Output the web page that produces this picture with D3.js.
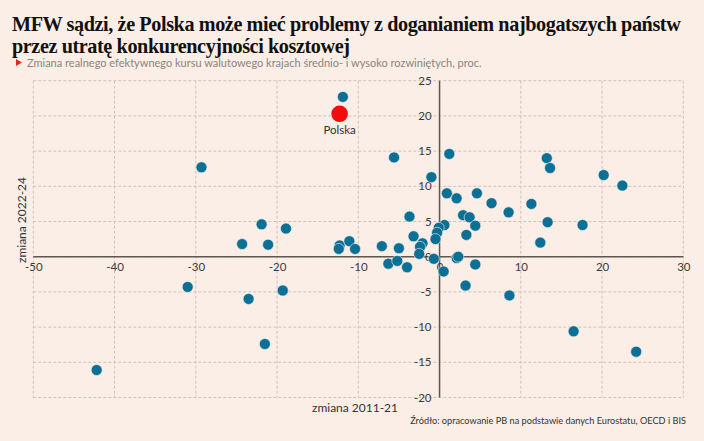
<!DOCTYPE html>
<html><head><meta charset="utf-8">
<script src="https://cdn.jsdelivr.net/npm/d3@7"></script>
<style>
html,body{margin:0;padding:0;background:#fbeee6;}
svg{display:block;}
</style></head>
<body>
<svg id="chart" width="704" height="441"></svg>
<script>
// --- data ---
const titleLines = ["MFW sądzi, że Polska może mieć problemy z doganianiem najbogatszych państw", "przez utratę konkurencyjności kosztowej"];
const subtitle = "Zmiana realnego efektywnego kursu walutowego krajach średnio- i wysoko rozwiniętych, proc.";
const source = "Źródło: opracowanie PB na podstawie danych Eurostatu, OECD i BIS";
const xLabel = "zmiana 2011-21";
const yLabel = "zmiana 2022-24";
const xTicks = [-50, -40, -30, -20, -10, 0, 10, 20, 30];
const yTicks = [-20, -15, -10, -5, 0, 5, 10, 15, 20, 25];
// change 2011-21 (x) and change 2022-24 (y) for each country
const change2011_21 = [-11.9, -29.3, -21.9, -18.9, -24.3, -21.1, -12.3, -12.4, -11.1, -10.4,
  -5.6, 1.2, -1.0, 0.9, 2.1, 4.6, 6.4, 8.5, 11.3, 13.2,
  13.6, 20.2, 22.5, 13.3, 17.6, 12.4, -3.7, 2.9, 3.7, 4.4,
  3.3, 0.6, -0.1, -0.3, -0.5, -3.2, -2.1, -2.4, -2.5, -5.0,
  -7.1, -0.7, 2.1, 2.3, -6.3, -5.2, -4.0, 4.4, 0.5, 3.2,
  8.6, 16.5, 24.2, -31.0, -23.5, -19.3, -21.5, -42.2];
const change2022_24 = [22.7, 12.7, 4.6, 4.0, 1.8, 1.7, 1.6, 1.1, 2.2, 1.1,
  14.1, 14.6, 11.3, 9.0, 8.3, 9.0, 7.6, 6.3, 7.5, 14.0,
  12.6, 11.6, 10.1, 4.9, 4.5, 2.0, 5.7, 5.9, 5.6, 4.4,
  3.1, 4.5, 4.1, 3.4, 2.5, 2.9, 1.9, 1.4, 0.4, 1.2,
  1.5, -0.3, -0.2, 0.0, -1.0, -0.6, -1.5, -1.1, -2.1, -4.1,
  -5.5, -10.6, -13.5, -4.3, -6.0, -4.8, -12.4, -16.1];
const highlightName = "Polska";
const highlightX = -12.3;
const highlightY = 20.3;

// --- drawing ---
const svg = d3.select("#chart");
const W = 704, H = 441;
svg.append("rect").attr("width", W).attr("height", H).attr("fill", "#fbeee6");

const x = d3.scaleLinear().domain([-50, 30]).range([33.3, 683.3]);
const y = d3.scaleLinear().domain([-20, 25]).range([397.5, 80.7]);

const gridColor = "#cfc3bc";
const g = svg.append("g");

// vertical grid
g.selectAll("line.vg").data(xTicks).join("line")
  .attr("x1", d => x(d)).attr("x2", d => x(d))
  .attr("y1", y(25)).attr("y2", y(-20))
  .attr("stroke", gridColor).attr("stroke-width", 1).attr("stroke-dasharray", "3,2");
// horizontal grid
g.selectAll("line.hg").data(yTicks).join("line")
  .attr("x1", x(-50)).attr("x2", x(30))
  .attr("y1", d => y(d)).attr("y2", d => y(d))
  .attr("stroke", gridColor).attr("stroke-width", 1).attr("stroke-dasharray", "3,2");

// zero axes
g.append("line").attr("x1", x(-50)).attr("x2", x(30)).attr("y1", y(0)).attr("y2", y(0))
  .attr("stroke", "#5e5650").attr("stroke-width", 1.5);
g.append("line").attr("x1", x(0)).attr("x2", x(0)).attr("y1", y(25)).attr("y2", y(-20))
  .attr("stroke", "#5e5650").attr("stroke-width", 1.5);

const fmt = d => String(d);
// x axis via d3 axis, placed at y=0
const xAxis = d3.axisBottom(x).tickValues(xTicks).tickSize(0).tickPadding(6).tickFormat(fmt);
const xa = svg.append("g").attr("transform", `translate(0,${y(0)})`).call(xAxis);
xa.select(".domain").remove();
xa.selectAll("text").attr("font-family", "Lato, sans-serif").attr("font-size", 11.5).attr("fill", "#3a3a3a");

const yAxis = d3.axisLeft(y).tickValues(yTicks).tickSize(0).tickPadding(8).tickFormat(fmt);
const ya = svg.append("g").attr("transform", `translate(${x(0)},0)`).call(yAxis);
ya.select(".domain").remove();
ya.selectAll("text").attr("font-family", "Lato, sans-serif").attr("font-size", 11.5).attr("fill", "#3a3a3a");

// points
const pts = change2011_21.map((v, i) => ({x: v, y: change2022_24[i]}));
svg.append("g").selectAll("circle").data(pts).join("circle")
  .attr("cx", d => x(d.x)).attr("cy", d => y(d.y)).attr("r", 5.5)
  .attr("fill", "#0b7096").attr("stroke", "#fbeee6").attr("stroke-width", 0.6);

// highlight
svg.append("circle").attr("cx", x(highlightX)).attr("cy", y(highlightY)).attr("r", 8.3)
  .attr("fill", "#f20c0c");
svg.append("text").attr("x", x(highlightX)).attr("y", y(highlightY) + 20)
  .attr("text-anchor", "middle").attr("font-family", "Lato, sans-serif").attr("font-size", 11.5)
  .attr("fill", "#333").text(highlightName);

// axis titles
svg.append("text").attr("x", 355).attr("y", 412).attr("text-anchor", "middle")
  .attr("font-family", "Lato, sans-serif").attr("font-size", 12).attr("fill", "#333").text(xLabel);
svg.append("text").attr("transform", "translate(26,220) rotate(-90)").attr("text-anchor", "middle")
  .attr("font-family", "Lato, sans-serif").attr("font-size", 12).attr("fill", "#333").text(yLabel);

// title
const tl = svg.append("g");
titleLines.forEach((t, i) => {
  tl.append("text").attr("x", 12).attr("y", 31 + i * 22)
    .attr("font-family", "'Liberation Serif', serif").attr("font-weight", "bold")
    .attr("font-size", 21).attr("fill", "#111").attr("letter-spacing", -0.4).text(t);
});
// fit first line width to ~670px
const t0 = tl.select("text").node();
const w0 = t0.getComputedTextLength();
const k = 670 / w0;
tl.selectAll("text").attr("font-size", 21 * k);

// subtitle
svg.append("path").attr("d", "M16,59 L22,62.5 L16,66 Z").attr("fill", "#e8241c");
svg.append("text").attr("x", 27).attr("y", 66.5)
  .attr("font-family", "Lato, sans-serif").attr("font-size", 11).attr("fill", "#8a8480").text(subtitle);

// source
svg.append("text").attr("x", 686).attr("y", 424).attr("text-anchor", "end")
  .attr("font-family", "Lato, sans-serif").attr("font-size", 9.2).attr("fill", "#333").text(source);
</script>
</body></html>
